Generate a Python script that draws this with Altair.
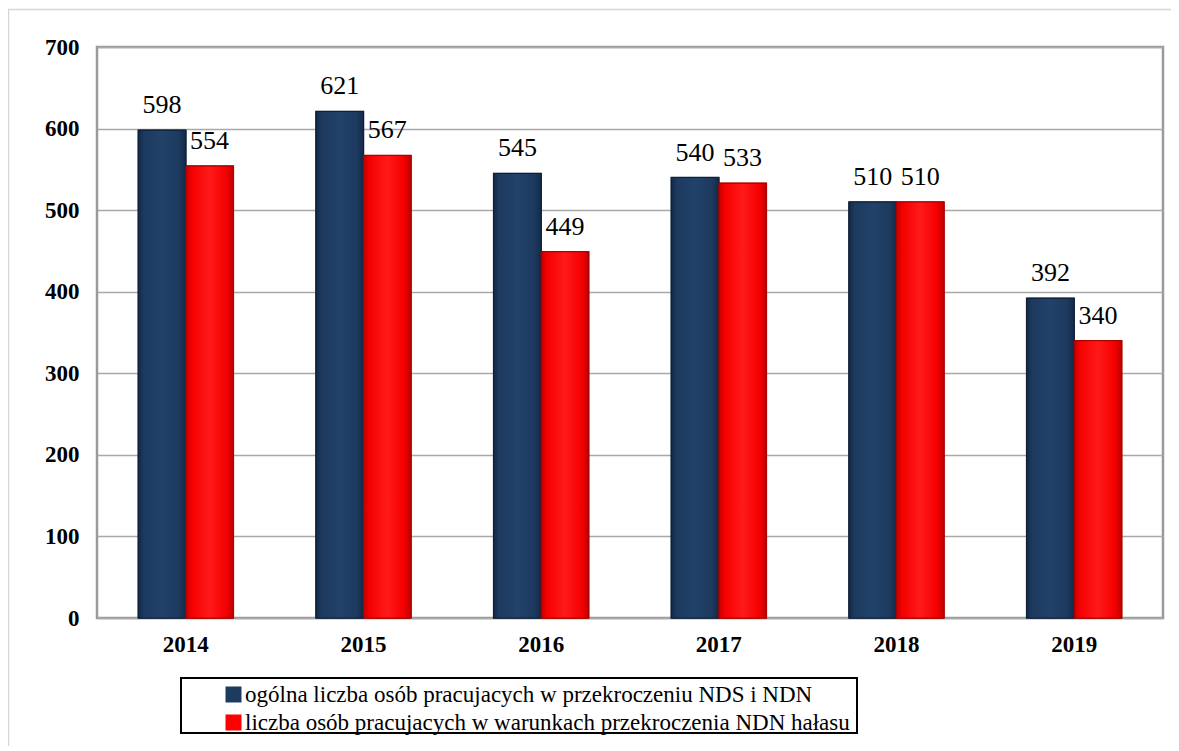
import altair as alt
import pandas as pd

years = ["2014", "2015", "2016", "2017", "2018", "2019"]
series_names = [
    "ogólna liczba osób pracujacych w przekroczeniu NDS i NDN",
    "liczba osób pracujacych w warunkach przekroczenia NDN hałasu",
]
total_workers = [598, 621, 545, 540, 510, 392]
noise_workers = [554, 567, 449, 533, 510, 340]
bar_colors = ["#1d3a5f", "#ff0000"]
edge_colors = ["#0f2038", "#a80000"]

rows = []
for i, y in enumerate(years):
    rows.append({"year": y, "series": series_names[0], "value": total_workers[i]})
    rows.append({"year": y, "series": series_names[1], "value": noise_workers[i]})
df = pd.DataFrame(rows)

SERIF = "Liberation Serif"
W, H = 1066, 571

x_enc = alt.X("year:N", sort=years, title=None,
              scale=alt.Scale(paddingInner=0.465, paddingOuter=0.2325),
              axis=alt.Axis(labelFont=SERIF, labelFontSize=23, labelFontWeight="bold",
                            labelColor="black", labelAngle=0, labelPadding=15,
                            domain=False, ticks=False, grid=False))
y_enc = alt.Y("value:Q", title=None,
              scale=alt.Scale(domain=[0, 700], nice=False),
              axis=alt.Axis(values=[0, 100, 200, 300, 400, 500, 600, 700],
                            labelFont=SERIF, labelFontSize=23, labelFontWeight="bold",
                            labelColor="black", labelPadding=18, domain=False, ticks=False,
                            grid=True, gridColor="#a9a9a9", gridWidth=1.5))
xoff = alt.XOffset("series:N", sort=series_names, scale=alt.Scale(paddingInner=0, paddingOuter=0))

base = alt.Chart(df)

bars = base.mark_bar(strokeWidth=1.5).encode(
    x=x_enc, y=y_enc, xOffset=xoff,
    color=alt.Color("series:N", sort=series_names,
                    scale=alt.Scale(domain=series_names, range=bar_colors),
                    legend=alt.Legend(orient="none", legendX=125, legendY=636, title=None,
                                      symbolType="square", symbolSize=256,
                                      symbolStrokeWidth=0, labelFont=SERIF,
                                      labelFontSize=23, labelColor="black",
                                      labelLimit=0, labelOffset=0, rowPadding=4,
                                      padding=0)),
    stroke=alt.Stroke("series:N", sort=series_names,
                      scale=alt.Scale(domain=series_names, range=edge_colors), legend=None),
)

def shaded(idx, dark, mid, light):
    grad = alt.Gradient(gradient="linear", x1=0, x2=1, y1=0, y2=0, stops=[
        alt.GradientStop(offset=0, color=dark),
        alt.GradientStop(offset=0.12, color=mid),
        alt.GradientStop(offset=0.5, color=light),
        alt.GradientStop(offset=0.85, color=mid),
        alt.GradientStop(offset=1, color=dark),
    ])
    return base.transform_filter(alt.datum.series == series_names[idx]).mark_bar(
        fill=grad, stroke=edge_colors[idx], strokeWidth=1
    ).encode(
        x=alt.X("year:N", sort=years), y="value:Q", xOffset=xoff
    )

blue_shade = shaded(0, "#132a47", "#1d3a5f", "#22426a")
red_shade = shaded(1, "#c00000", "#f50000", "#ff1a1a")

labels = base.mark_text(font=SERIF, fontSize=26, color="black", baseline="alphabetic",
                        dy=-17).encode(
    x=alt.X("year:N", sort=years), y="value:Q", xOffset=xoff, text="value:Q"
)

dummy = alt.Data(values=[{"a": 1}])
legend_box = alt.Chart(dummy).mark_rect(fill=None, stroke="black", strokeWidth=2).encode(
    x=alt.value(84), x2=alt.value(760), y=alt.value(631), y2=alt.value(686)
)
outer_frame = alt.Chart(dummy).mark_rect(fill=None, stroke="#d6d6d6", strokeWidth=1.5).encode(
    x=alt.value(-88.5), x2=alt.value(1150), y=alt.value(-37.5), y2=alt.value(800)
)

chart = alt.layer(outer_frame, bars, blue_shade, red_shade, labels, legend_box).properties(
    width=W, height=H,
    autosize=alt.AutoSizeParams(type="none"),
    padding={"left": 89, "top": 39, "right": 8, "bottom": 128},
    background="white",
).configure_view(stroke="#9a9a9a", strokeWidth=2.5)

chart.save("out.html", embed_options={"renderer": "svg", "actions": False})
